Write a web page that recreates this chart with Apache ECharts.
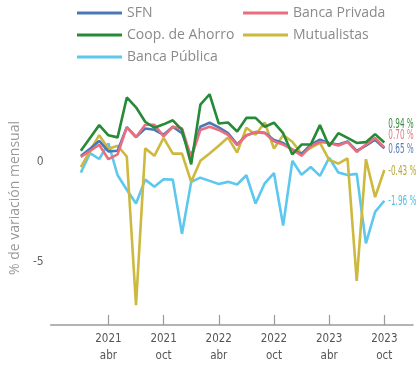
<!DOCTYPE html>
<html>
<head>
<meta charset="utf-8">
<script src="https://cdn.jsdelivr.net/npm/echarts@6/dist/echarts.min.js"></script>
<style>
  html, body { margin: 0; padding: 0; background: #ffffff; }
  #chart { width: 418px; height: 365px; }
</style>
</head>
<body>
<div id="chart"></div>
<script>
// Monthly periods, Jan 2021 - Oct 2023
const months = [
  '2021-01','2021-02','2021-03','2021-04','2021-05','2021-06','2021-07','2021-08','2021-09','2021-10','2021-11','2021-12',
  '2022-01','2022-02','2022-03','2022-04','2022-05','2022-06','2022-07','2022-08','2022-09','2022-10','2022-11','2022-12',
  '2023-01','2023-02','2023-03','2023-04','2023-05','2023-06','2023-07','2023-08','2023-09','2023-10'
];

// Monthly % change by segment
const sfn     = [0.27,0.63,1.02,0.50,0.53,1.71,1.22,1.64,1.58,1.33,1.73,1.41,0.24,1.73,1.93,1.70,1.41,0.85,1.29,1.46,1.43,1.07,0.92,0.58,0.37,0.84,1.08,0.92,0.84,1.00,0.52,0.79,1.08,0.65];
const privada = [0.22,0.52,0.83,0.11,0.35,1.70,1.20,1.83,1.83,1.25,1.73,1.65,0.19,1.57,1.73,1.57,1.33,0.81,1.30,1.46,1.41,1.00,0.84,0.60,0.28,0.76,0.97,0.92,0.79,0.97,0.47,0.84,1.17,0.70];
const coop    = [0.53,1.17,1.81,1.30,1.20,3.19,2.70,1.98,1.68,1.85,2.05,1.57,-0.15,2.83,3.35,1.89,1.94,1.49,2.17,2.17,1.73,1.93,1.41,0.35,0.84,0.84,1.81,0.76,1.41,1.17,0.92,0.96,1.36,0.94];
const mutual  = [-0.29,0.52,1.31,0.63,0.78,0.24,-7.17,0.65,0.28,1.17,0.39,0.39,-1.02,0.03,0.39,0.78,1.19,0.44,1.68,1.33,1.94,0.64,1.31,0.98,0.38,0.68,0.92,0.08,-0.11,0.15,-5.96,0.11,-1.78,-0.43];
const publica = [-0.56,0.41,0.12,0.90,-0.69,-1.41,-2.10,-0.91,-1.26,-0.89,-0.91,-3.61,-1.02,-0.81,-0.97,-1.13,-1.02,-1.15,-0.69,-2.10,-1.09,-0.58,-3.20,0.03,-0.67,-0.28,-0.72,0.18,-0.55,-0.68,-0.62,-4.09,-2.52,-1.96];

// Axis ticks
const xTickMonths = ['2021-04','2021-10','2022-04','2022-10','2023-04','2023-10'];
const xTickLabels = ['2021\nabr','2021\noct','2022\nabr','2022\noct','2023\nabr','2023\noct'];
const yTicks = [0, -5];

const xTickPos = xTickMonths.map(m => months.indexOf(m));
const toPairs = arr => arr.map((v, i) => [i, v]);

const condensed = '"DejaVu Sans Condensed", "Liberation Sans Narrow", sans-serif';

// name, values, line colour, end-label colour, end-label vertical nudge, draw order
const lines = [
  { name: 'Banca Pública',   data: publica, color: '#5cc8ee', label: '#55bde3', dy: 1,   z: 2 },
  { name: 'Mutualistas',     data: mutual,  color: '#cdb93f', label: '#b8a73a', dy: 1,   z: 3 },
  { name: 'SFN',             data: sfn,     color: '#4b78b4', label: '#5a7db0', dy: 1,   z: 4 },
  { name: 'Banca Privada',   data: privada, color: '#e96f7f', label: '#e07985', dy: -12, z: 5 },
  { name: 'Coop. de Ahorro', data: coop,    color: '#268a36', label: '#3b8c45', dy: -18, z: 6 }
];

const chart = echarts.init(document.getElementById('chart'), null, { renderer: 'canvas' });

const legendText = { color: '#8a8a8a', fontSize: 14, fontFamily: '"Open Sans", sans-serif', lineHeight: 14 };

chart.setOption({
  animation: false,
  grid: { left: 43, right: 5, top: 71, bottom: 33, containLabel: false },
  legend: [
    {
      orient: 'vertical', left: 72, top: 1, itemGap: 8,
      itemWidth: 45, itemHeight: 3, icon: 'rect',
      data: ['SFN', 'Coop. de Ahorro', 'Banca Pública'],
      textStyle: legendText
    },
    {
      orient: 'vertical', left: 238, top: 1, itemGap: 8,
      itemWidth: 45, itemHeight: 3, icon: 'rect',
      data: ['Banca Privada', 'Mutualistas'],
      textStyle: legendText
    }
  ],
  xAxis: {
    type: 'value',
    min: -3.28,
    max: 36.12,
    splitLine: { show: false },
    axisLine: { show: true, onZero: false, lineStyle: { color: '#9a9a9a', width: 1.5 } },
    axisTick: { show: true, inside: true, length: 10, customValues: xTickPos, lineStyle: { color: '#9a9a9a', width: 1.2 } },
    axisLabel: {
      customValues: xTickPos,
      formatter: v => xTickLabels[xTickPos.indexOf(v)] || '',
      color: '#555555', fontFamily: condensed, fontSize: 11.5, lineHeight: 17, margin: 6
    }
  },
  yAxis: {
    type: 'value',
    min: -8.16,
    max: 4.51,
    name: '% de variación mensual',
    nameLocation: 'middle',
    nameGap: 28,
    nameTextStyle: { color: '#9a9a9a', fontSize: 14, fontFamily: '"Open Sans", sans-serif' },
    splitLine: { show: false },
    axisLine: { show: false },
    axisTick: { show: false },
    axisLabel: {
      customValues: yTicks,
      color: '#666666', fontFamily: condensed, fontSize: 12, margin: 7
    }
  },
  series: lines.map(s => ({
    name: s.name,
    type: 'line',
    data: toPairs(s.data),
    showSymbol: false,
    symbol: 'none',
    z: s.z,
    lineStyle: { color: s.color, width: 2.6 },
    itemStyle: { color: s.color }
  }))
});

// Last-value labels at the right end of each line, in a narrow face
chart.setOption({
  graphic: lines.map(s => {
    const last = s.data.length - 1;
    const pt = chart.convertToPixel({ gridIndex: 0 }, [last, s.data[last]]);
    return {
      type: 'text',
      x: pt[0] + 4,
      y: pt[1] + s.dy,
      scaleX: 0.6,
      z: 10,
      style: {
        text: s.data[last].toFixed(2) + ' %',
        fill: s.label,
        fontSize: 13.5,
        fontFamily: condensed,
        align: 'left',
        verticalAlign: 'middle'
      }
    };
  })
});
</script>
</body>
</html>
